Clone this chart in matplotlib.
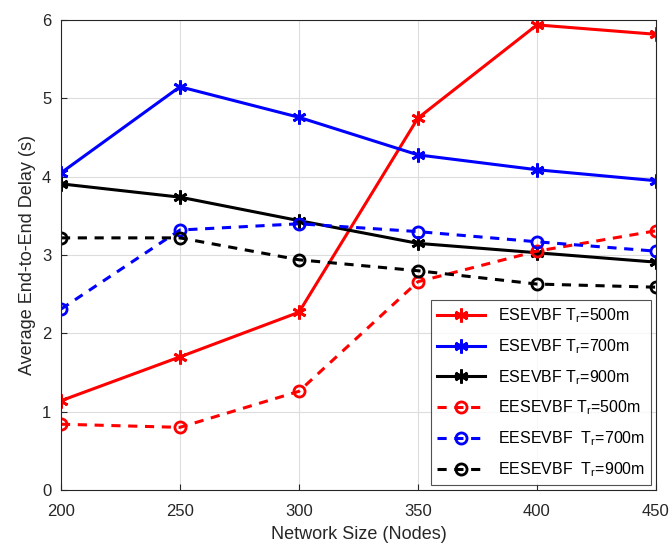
import matplotlib
matplotlib.use("Agg")
import matplotlib.pyplot as plt

plt.rcParams['font.family'] = ['Liberation Sans', 'DejaVu Sans']
plt.rcParams['mathtext.fontset'] = 'custom'
plt.rcParams['mathtext.rm'] = 'Liberation Sans'
plt.rcParams['mathtext.it'] = 'Liberation Sans'

nodes = [200, 250, 300, 350, 400, 450]
esevbf_500 = [1.14, 1.70, 2.27, 4.75, 5.94, 5.82]
esevbf_700 = [4.05, 5.15, 4.76, 4.28, 4.09, 3.95]
esevbf_900 = [3.91, 3.74, 3.44, 3.15, 3.03, 2.91]
eesevbf_500 = [0.84, 0.80, 1.26, 2.66, 3.05, 3.31]
eesevbf_700 = [2.31, 3.32, 3.40, 3.30, 3.17, 3.05]
eesevbf_900 = [3.22, 3.22, 2.94, 2.80, 2.63, 2.59]

labels = ['ESEVBF T$_{\\mathrm{r}}$=500m', 'ESEVBF T$_{\\mathrm{r}}$=700m', 'ESEVBF T$_{\\mathrm{r}}$=900m',
          'EESEVBF T$_{\\mathrm{r}}$=500m', 'EESEVBF  T$_{\\mathrm{r}}$=700m', 'EESEVBF  T$_{\\mathrm{r}}$=900m']

fig = plt.figure(figsize=(6.7, 5.46), dpi=100)
ax = fig.add_axes([0.091, 0.1026, 0.888, 0.8604])

star = (6, 2, 0)
ax.plot(nodes, esevbf_500, color='red', lw=2.2, marker=star, ms=10, mew=2, label=labels[0])
ax.plot(nodes, esevbf_700, color='blue', lw=2.2, marker=star, ms=10, mew=2, label=labels[1])
ax.plot(nodes, esevbf_900, color='black', lw=2.2, marker=star, ms=10, mew=2, label=labels[2])
ax.plot(nodes, eesevbf_500, color='red', lw=2.2, ls=(0, (3, 2.5)), marker='o', ms=8, mfc='none', mew=2, label=labels[3])
ax.plot(nodes, eesevbf_700, color='blue', lw=2.2, ls=(0, (3, 2.5)), marker='o', ms=8, mfc='none', mew=2, label=labels[4])
ax.plot(nodes, eesevbf_900, color='black', lw=2.2, ls=(0, (3, 2.5)), marker='o', ms=8, mfc='none', mew=2, label=labels[5])

ax.set_xlim(200, 450)
ax.set_ylim(0, 6)
ax.set_xticks(nodes)
ax.set_yticks(range(0, 7))
ax.grid(True, color='#dddddd', lw=0.8)
ax.set_axisbelow(True)
for s in ax.spines.values():
    s.set_color('#262626')
    s.set_linewidth(0.8)
ax.tick_params(direction='in', labelsize=12, colors='#262626', length=4)
ax.tick_params(axis='x', pad=10)
ax.tick_params(axis='y', pad=7)
ax.set_xlabel('Network Size (Nodes)', fontsize=13, color='#262626', labelpad=5)
ax.set_ylabel('Average End-to-End Delay (s)', fontsize=13, color='#262626', labelpad=4)

leg = ax.legend(loc='lower right', fontsize=11.5, frameon=True, fancybox=False,
                edgecolor='#262626', handlelength=3, borderaxespad=0.3, labelspacing=0.75)
leg.get_frame().set_linewidth(0.8)

fig.savefig('out.png', dpi=100)
